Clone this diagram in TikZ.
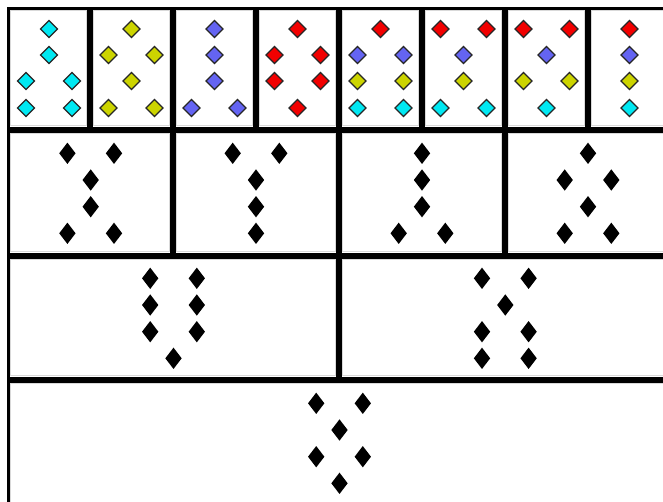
\documentclass[tikz,border=0pt]{standalone}
\usetikzlibrary{shapes.geometric}
\definecolor{suitcyan}{RGB}{0,232,242}
\definecolor{suityellow}{RGB}{204,212,0}
\definecolor{suitblue}{RGB}{100,100,242}
\definecolor{suitred}{RGB}{242,0,0}

\begin{document}
\begin{tikzpicture}[x=1pt,y=-1pt,
  card/.style={draw,line width=3pt,anchor=north west,inner sep=0pt,outer sep=0pt,fill=white},
  rim/.style={draw=gray!30,line width=0.7pt},
  pip/.style={diamond,draw=black!85,line width=1.2pt,inner sep=0pt,minimum width=17.5pt,minimum height=17.5pt},
  blackpip/.style={diamond,fill=black,inner sep=0pt,minimum width=16.5pt,minimum height=21.5pt}]
\useasboundingbox (0,0) rectangle (663,501);
\clip (0,0) rectangle (663,501);

% first row
\foreach \x [count=\i] in {7,90,173,256,339,422,505,588}
  \node[card,minimum width=80pt,minimum height=119.5pt] (a\i) at (\x+1.5,8.5) {};
% second row
\foreach \x [count=\i] in {7,173,339,505}
  \node[card,minimum width=163pt,minimum height=123pt] (b\i) at (\x+1.5,131) {};
% third row
\foreach \x [count=\i] in {7,339}
  \node[card,minimum width=329pt,minimum height=121pt] (c\i) at (\x+1.5,257) {};
% last row
\node[card,minimum width=661pt,minimum height=123.5pt] (d1) at (8.5,381) {};

\foreach \n in {a1,a2,a3,a4,a5,a6,a7,a8,b1,b2,b3,b4,c1,c2,d1}
  \draw[rim] ([shift={(2.2pt,-2.2pt)}]\n.north west) rectangle ([shift={(-2.2pt,2.2pt)}]\n.south east);

\foreach \px/\py [count=\i] in {49/29,49/55,26/81,72/81,26/108,72/108}
  \node[pip,fill=suitcyan] (pa\i) at (\px,\py) {};
\foreach \px/\py [count=\i] in {131.5/29,108.5/55,154.5/55,131.5/81,108.5/108,154.5/108}
  \node[pip,fill=suityellow] (pb\i) at (\px,\py) {};
\foreach \px/\py [count=\i] in {214.5/29,214.5/55,214.5/81,191.5/108,237.5/108}
  \node[pip,fill=suitblue] (pc\i) at (\px,\py) {};
\foreach \px/\py [count=\i] in {297.5/29,274.5/55,320.5/55,274.5/81,320.5/81,297.5/108}
  \node[pip,fill=suitred] (pd\i) at (\px,\py) {};
\foreach \px/\py/\col [count=\i] in {380.5/29/suitred,357.5/55/suitblue,403.5/55/suitblue,
    357.5/81/suityellow,403.5/81/suityellow,357.5/108/suitcyan,403.5/108/suitcyan}
  \node[pip,fill=\col] (pe\i) at (\px,\py) {};
\foreach \px/\py/\col [count=\i] in {440.5/29/suitred,486.5/29/suitred,463.5/55/suitblue,
    463.5/81/suityellow,440.5/108/suitcyan,486.5/108/suitcyan}
  \node[pip,fill=\col] (pf\i) at (\px,\py) {};
\foreach \px/\py/\col [count=\i] in {523.5/29/suitred,569.5/29/suitred,546.5/55/suitblue,
    523.5/81/suityellow,569.5/81/suityellow,546.5/108/suitcyan}
  \node[pip,fill=\col] (pg\i) at (\px,\py) {};
\foreach \px/\py/\col [count=\i] in {629.5/29/suitred,629.5/55/suitblue,629.5/81/suityellow,
    629.5/108/suitcyan}
  \node[pip,fill=\col] (ph\i) at (\px,\py) {};

\foreach \px/\py [count=\i] in {67.4/153.3,114/153.3,90.7/180,90.7/206.7,67.4/233.3,114/233.3,
    232.7/153.3,279.3/153.3,256/180,256/206.7,256/233.3,
    422/153.3,422/180,422/206.7,398.7/233.3,445.3/233.3,
    588/153.3,564.7/180,611.3/180,588/206.7,564.7/233.3,611.3/233.3}
  \node[blackpip] (q\i) at (\px,\py) {};
\foreach \px/\py [count=\i] in {150.2/278.3,196.8/278.3,150.2/305,196.8/305,150.2/331.7,196.8/331.7,173.5/358.3,
    482/278.3,528.6/278.3,505.3/305,482/331.7,528.6/331.7,482/358.3,528.6/358.3}
  \node[blackpip] (r\i) at (\px,\py) {};
\foreach \px/\py [count=\i] in {316.2/403.3,362.8/403.3,339.5/430,316.2/456.7,362.8/456.7,339.5/483.3}
  \node[blackpip] (s\i) at (\px,\py) {};
\end{tikzpicture}
\end{document}
